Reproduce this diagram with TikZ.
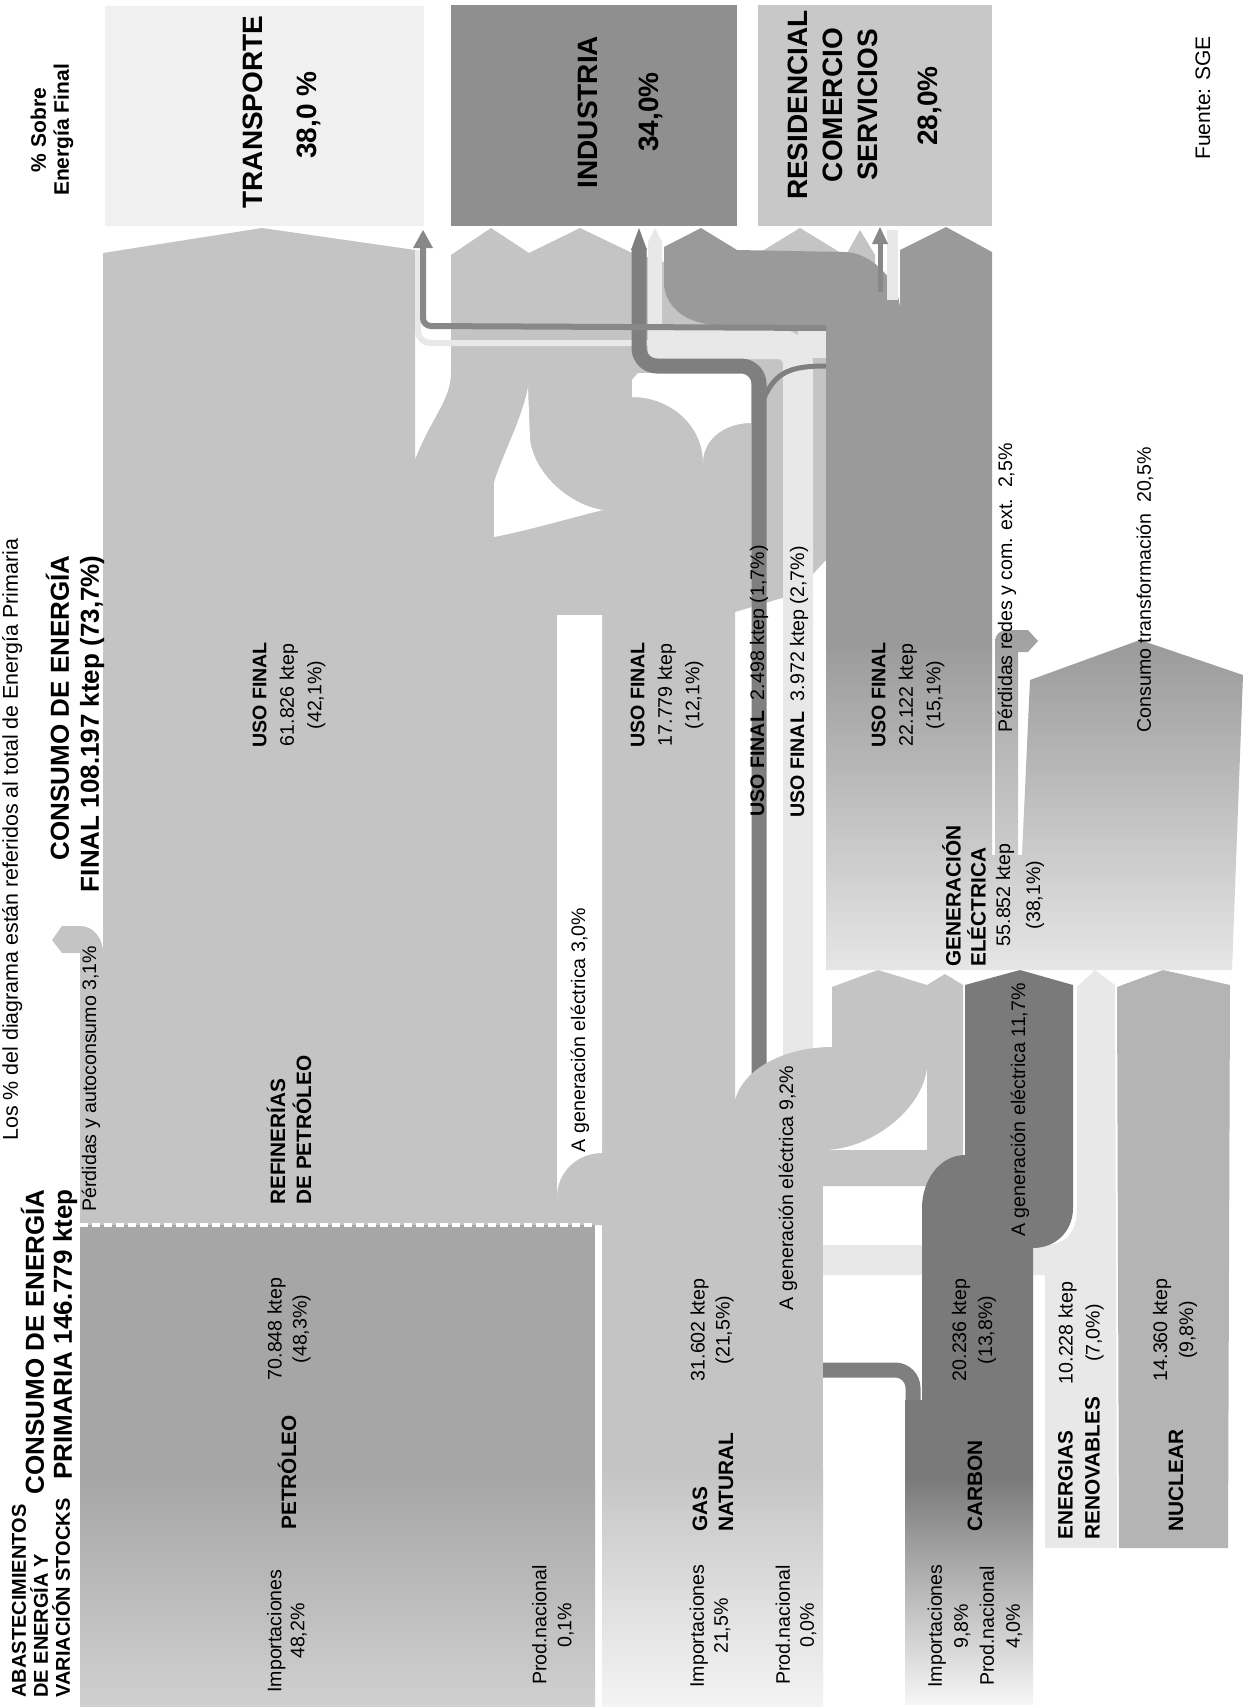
\documentclass[tikz,border=0pt]{standalone}
\usepackage{fontspec}
\setmainfont{Liberation Sans}
\begin{document}
\begin{tikzpicture}[x=0.5pt,y=-0.5pt]
\definecolor{oilc}{HTML}{C4C4C4}
\definecolor{petc}{HTML}{A6A6A6}
\definecolor{petbot}{HTML}{D0D0D0}
\definecolor{gasbot}{HTML}{F4F4F4}
\definecolor{carc}{HTML}{7A7A7A}
\definecolor{carbot}{HTML}{F6F6F6}
\definecolor{carsc}{HTML}{7F7F7F}
\definecolor{renc}{HTML}{E8E8E8}
\definecolor{nucc}{HTML}{B4B4B4}
\definecolor{elec}{HTML}{9A9A9A}
\definecolor{genbot}{HTML}{E6E6E6}
\definecolor{perdtop}{HTML}{A0A0A0}
\definecolor{perdbot}{HTML}{CCCCCC}
\definecolor{indc}{HTML}{8F8F8F}
\definecolor{resc}{HTML}{C8C8C8}
\definecolor{trac}{HTML}{F0F0F0}
\definecolor{arrc}{HTML}{888888}
\tikzset{
 lbl/.style={rotate=90, inner sep=0pt, font=\fontsize{9.8}{12.5}\selectfont},
 lblb/.style={rotate=90, inner sep=0pt, font=\bfseries\fontsize{10.4}{13}\selectfont},
 ttl/.style={rotate=90, inner sep=0pt, font=\bfseries\fontsize{14}{17.5}\selectfont},
 hd/.style={rotate=90, inner sep=0pt, font=\bfseries\fontsize{13}{14}\selectfont},
}
\useasboundingbox (0,0) rectangle (1246,1708);
\fill[white] (0,0) rectangle (1246,1708);

% sector boxes
\fill[trac] (105,6) rectangle (424,226);
\fill[indc] (451,5) rectangle (737,226);
\fill[resc] (758,5) rectangle (992,226);

% main oil/gas (c4) region
\fill[oilc] (103,1225) -- (103,253) -- (262,228) -- (415,250) -- (415,460)
  .. controls (430,420) and (451,400) .. (451,373) -- (451,255) -- (491,228) -- (529,253)
  -- (580,228) -- (630,252) -- (664,262) -- (826,262) -- (826,560) -- (812,575)
  -- (782,598) -- (735,612) -- (735,1160) -- (602,1160) -- (602,1225) -- cycle;
\fill[oilc] (759,253) -- (800,228) -- (841,253) -- (841,300) -- (759,300) -- cycle;
\fill[oilc] (846,255) -- (860,230) -- (875,255) -- (875,300) -- (846,300) -- cycle;

% white holes
\fill[white] (528,387) .. controls (522,420) and (500,460) .. (494,483) -- (494,537)
  .. controls (530,530) and (570,518) .. (603,510) .. controls (570,505) and (535,475) .. (530,440) -- cycle;
\fill[white] (638,373) -- (751,373) -- (751,423) .. controls (726,423) and (703,438) .. (703,463)
  .. controls (703,425) and (670,397) .. (632,397) -- (632,380) -- cycle;
\fill[white] (557,615) -- (602,615) -- (602,1153) .. controls (577,1153) and (557,1172) .. (557,1197) -- cycle;

% renewables final-use strip
\fill[renc] (648,242) -- (655,228) -- (662,242) -- (662,345) -- (648,345) -- cycle;
\draw[renc, line width=15pt, rounded corners=10pt] (648,344) -- (798,344) -- (798,1260) -- (1060,1260);
\fill[renc] (798,330) rectangle (826,358);
\draw[renc, line width=3pt, rounded corners=6pt] (650,343) -- (418,343) -- (418,250);

% coal final-use strip
\draw[carsc, line width=7.5pt, rounded corners=9pt] (639,248) -- (639,366) -- (759,366) -- (759,1370) -- (913,1370) -- (913,1425);
\fill[carsc] (631,250) -- (639,228) -- (647,250) -- cycle;
\draw[carsc, line width=2.5pt] (763,400) .. controls (775,372) and (790,366) .. (826,366);

% gas to generation, oil to generation, gas column
\fill[oilc] (735,1100) .. controls (745,1065) and (790,1047) .. (832,1047) -- (832,987) -- (878,970)
  -- (927,985) -- (927,1067) .. controls (923,1110) and (870,1150) .. (823,1150) -- (823,1160) -- (735,1160) -- cycle;
\fill[oilc] (823,1150) -- (927,1150) -- (927,985) -- (945,974) -- (963,985) -- (963,1150)
  .. controls (963,1172) and (948,1186) .. (927,1186) -- (823,1186) -- cycle;
\fill[oilc] (602,1150) rectangle (823,1470);
\shade[top color=oilc, bottom color=gasbot] (602,1469) rectangle (823,1706);

% renewables, coal, nuclear
\fill[renc] (1077,987) -- (1095,970) -- (1115,985) -- (1117,1548) -- (1045,1548) -- (1045,1245)
  .. controls (1065,1245) and (1077,1232) .. (1077,1210) -- cycle;
\fill[carc] (965,985) -- (1020,970) -- (1073,985) -- (1073,1208) .. controls (1073,1232) and (1055,1248) .. (1033,1248)
  -- (1033,1480) -- (905,1480) -- (905,1400) -- (922,1400) -- (922,1208)
  .. controls (922,1180) and (940,1155) .. (965,1155) -- cycle;
\shade[top color=carc, bottom color=carbot] (905,1479) rectangle (1033,1704);
\fill[nucc] (1117,987) -- (1163,970) -- (1230,985) -- (1228,1548) -- (1119,1548) -- cycle;

% electricity
\fill[elec] (664,283) -- (664,247) -- (701,228) -- (737,250) -- (844,252)
  .. controls (872,252) and (900,282) .. (900,310) -- (900,250) -- (946,227) -- (992,252)
  -- (992,652) -- (826,652) -- (826,325) -- (719,325) .. controls (685,325) and (664,305) .. (664,283) -- cycle;
\shade[top color=elec, bottom color=genbot] (826,650) -- (992,650) -- (992,855) -- (1022,855) -- (1030,680)
  -- (1140,640) -- (1243,675) -- (1232,970) -- (826,970) -- cycle;
\shade[top color=perdtop, bottom color=perdbot] (995,855) -- (995,642) .. controls (995,634) and (1000,630) .. (1008,630)
  -- (1028,630) -- (1038,641) -- (1028,652) -- (1018,652) -- (1018,855) -- cycle;

% thin arrows into sectors
\fill[renc] (887,230) rectangle (898,300);
\draw[arrc, line width=2.5pt] (880,292) -- (880,242);
\fill[arrc] (872,244) -- (880,227) -- (888,244) -- cycle;
\draw[arrc, line width=3pt, rounded corners=4pt] (826,328) -- (423,326) -- (423,246);
\fill[arrc] (413,248) -- (423,230) -- (433,248) -- cycle;

% refinery losses curl, crude oil block
\fill[oilc] (80,1225) -- (80,953) -- (62,953) -- (52,940) -- (62,926) -- (80,926)
  .. controls (95,926) and (104,940) .. (104,960) -- (104,1225) -- cycle;
\fill[petc] (80,1225) rectangle (595,1480);
\shade[top color=petc, bottom color=petbot] (80,1479) rectangle (595,1706);
\draw[white, line width=2.2pt, dash pattern=on 4pt off 2pt] (80,1225) -- (595,1225);

% ---------------- texts ----------------
\node[lbl, font=\fontsize{10.7}{12.5}\selectfont, anchor=base west] (nota) at (18,1141) {Los \% del diagrama están referidos al total de Energía Primaria};
\node[rotate=90, inner sep=0pt, font=\bfseries\fontsize{10}{11}\selectfont, align=left, anchor=west] (abast) at (41,1698) {ABASTECIMIENTOS\\DE ENERGÍA Y\\VARIACIÓN STOCKS};
\node[hd, align=right, anchor=east] (cprim) at (49,1189) {CONSUMO DE ENERGÍA\\PRIMARIA 146.779 ktep};
\node[rotate=90, inner sep=0pt, font=\bfseries\fontsize{13}{15}\selectfont, align=right, anchor=east] (cfin) at (75,555) {CONSUMO DE ENERGÍA\\FINAL 108.197 ktep (73,7\%)};
\node[rotate=90, inner sep=0pt, font=\bfseries\fontsize{10.5}{11.5}\selectfont, align=center] (sobre) at (52,130) {\% Sobre\\Energía Final};
\node[ttl] (ttra) at (253,112) {TRANSPORTE};
\node[ttl] (ptra) at (309,115) {38,0 \%};
\node[ttl] (tind) at (588,112) {INDUSTRIA};
\node[ttl] (pind) at (651,112) {34,0\%};
\node[ttl, align=center] (tres) at (833,105) {RESIDENCIAL\\COMERCIO\\SERVICIOS};
\node[ttl] (pres) at (930,106) {28,0\%};
\node[lbl, font=\fontsize{10.5}{12}\selectfont] (fuente) at (1203,98) {Fuente: SGE};

\node[lbl, anchor=base west] (perd1) at (96,1212) {Pérdidas y autoconsumo 3,1\%};
\node[lblb, align=left, anchor=west] (refi) at (289,1205) {REFINERÍAS\\DE PETRÓLEO};
\node[lbl, align=center, font=\fontsize{9.8}{13.75}\selectfont] (uf1) at (289,695) {\textbf{USO FINAL}\\61.826 ktep\\(42,1\%)};
\node[lbl] (ag3) at (580,1030) {A generación eléctrica 3,0\%};
\node[lbl, align=center, font=\fontsize{9.8}{13.75}\selectfont] (uf2) at (667,695) {\textbf{USO FINAL}\\17.779 ktep\\(12,1\%)};
\node[lbl, anchor=west] (uf3) at (759,817) {\textbf{USO FINAL}\ \ 2.498 ktep (1,7\%)};
\node[lbl, anchor=west] (uf4) at (799,818) {\textbf{USO FINAL}\ \ 3.972 ktep (2,7\%)};
\node[lbl, align=center, font=\fontsize{9.8}{13.75}\selectfont] (uf5) at (908,695) {\textbf{USO FINAL}\\22.122 ktep\\(15,1\%)};
\node[lblb, align=left, anchor=west, font=\bfseries\fontsize{10.4}{12.5}\selectfont] (gen) at (964,967) {GENERACIÓN\\ELÉCTRICA};
\node[lbl, align=center, font=\fontsize{9.8}{15}\selectfont] (genv) at (1020,895) {55.852 ktep\\(38,1\%)};
\node[lbl, anchor=west] (perd2) at (1007,733) {Pérdidas redes y com. ext.\ \ 2,5\%};
\node[lbl, anchor=west] (cons) at (1145,733) {Consumo transformación\ \ 20,5\%};
\node[lbl] (ag9) at (788,1188) {A generación eléctrica 9,2\%};
\node[lbl] (ag11) at (1020,1110) {A generación eléctrica 11,7\%};

\node[lbl, align=center, font=\fontsize{9.8}{12.5}\selectfont] (petv) at (289,1329) {70.848 ktep\\(48,3\%)};
\node[lblb, anchor=west] (pet) at (287,1530) {PETRÓLEO};
\node[lbl, align=center, font=\fontsize{9.8}{11.5}\selectfont] (petimp) at (287,1631) {Importaciones\\48,2\%};
\node[lbl, align=center, font=\fontsize{9.8}{12.5}\selectfont] (petprod) at (553,1625) {Prod.nacional\\0,1\%};

\node[lbl, align=center, font=\fontsize{9.8}{12.5}\selectfont] (gasv) at (712,1330) {31.602 ktep\\(21,5\%)};
\node[lblb, align=left, anchor=west] (gas) at (713,1532) {GAS\\NATURAL};
\node[lbl, align=center, font=\fontsize{9.8}{12}\selectfont] (gasimp) at (710,1626) {Importaciones\\21,5\%};
\node[lbl, align=center, font=\fontsize{9.8}{12}\selectfont] (gasprod) at (796,1625) {Prod.nacional\\0,0\%};

\node[lbl, align=center, font=\fontsize{9.8}{13}\selectfont] (carv) at (974,1330) {20.236 ktep\\(13,8\%)};
\node[lblb, anchor=west] (car) at (975,1532) {CARBON};
\node[lbl, align=center, font=\fontsize{9.8}{13}\selectfont] (carimp) at (975,1626) {Importaciones\\9,8\%\\Prod.nacional\\4,0\%};

\node[lblb, align=left, anchor=west, font=\bfseries\fontsize{10.4}{13.5}\selectfont] (ren) at (1079,1540) {ENERGIAS\\RENOVABLES};
\node[lbl, align=center, font=\fontsize{9.8}{13.5}\selectfont] (renv) at (1081,1333) {10.228 ktep\\(7,0\%)};

\node[lbl, align=center, font=\fontsize{9.8}{13}\selectfont] (nucv) at (1175,1330) {14.360 ktep\\(9,8\%)};
\node[lblb, anchor=west] (nuc) at (1176,1532) {NUCLEAR};
\end{tikzpicture}
\end{document}
